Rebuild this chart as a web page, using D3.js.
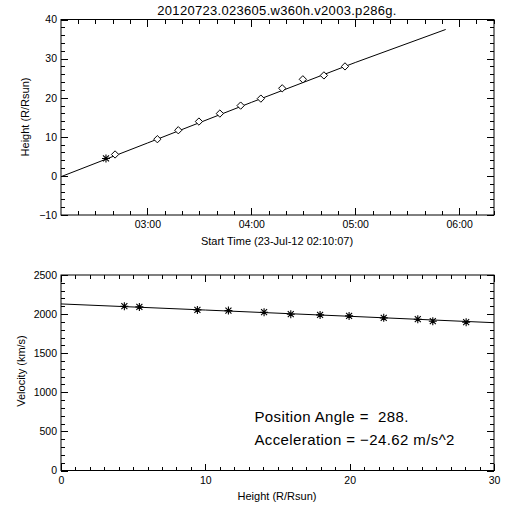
<!DOCTYPE html>
<html>
<head>
<meta charset="utf-8">
<script src="https://cdn.jsdelivr.net/npm/d3@7/dist/d3.min.js"></script>
<style>
  html, body { margin: 0; padding: 0; background: #fff; }
  svg { display: block; }
  text { font-family: "Liberation Sans", Arial, sans-serif; fill: #000; white-space: pre; }
</style>
</head>
<body>
<svg id="chart" width="512" height="512"></svg>
<script>
// ---------- data ----------
const titleText = "20120723.023605.w360h.v2003.p286g.";
const dayStr = "2012-07-23";
const timeDomain = ["02:10:07", "06:20:07"];
const timeMajorTicks = ["03:00:00", "04:00:00", "05:00:00", "06:00:00"];
const heightDomain = [-10, 40];
const heightTicks = [-10, 0, 10, 20, 30, 40];

// first (C2) point, drawn as asterisk
const c2Times = ["02:36:05"];
const c2Heights = [4.46];
// C3 points, drawn as diamonds
const c3Times = ["02:41:20", "03:05:45", "03:17:50", "03:29:45", "03:41:50", "03:53:50",
                 "04:05:30", "04:17:50", "04:29:45", "04:41:55", "04:54:05"];
const c3Heights = [5.48, 9.39, 11.68, 13.9, 15.94, 17.98, 19.77, 22.4, 24.7, 25.7, 28.0];
// height-time fit curve
const fitTimes = ["02:10:07", "03:00:00", "04:00:00", "05:00:00", "05:52:13"];
const fitHeights = [-0.2, 8.4, 18.8, 29.0, 37.45];

// velocity panel
const velXDomain = [0, 30];
const velXTicks = [0, 10, 20, 30];
const velYDomain = [0, 2500];
const velYTicks = [0, 500, 1000, 1500, 2000, 2500];
const velHeights = [4.39, 5.43, 9.45, 11.6, 14.07, 15.92, 17.95, 19.96, 22.36, 24.72, 25.76, 28.07];
const velValues = [2101, 2092, 2054, 2045, 2024, 1999, 1990, 1977, 1952, 1935, 1909, 1897];
const velFitHeights = [0, 10, 20, 30];
const velFitValues = [2130, 2052, 1972, 1890];

const annotation1 = "Position Angle =  288.";
const annotation2 = "Acceleration = \u221224.62 m/s^2";
const annoPos1 = [13.4, 625];
const annoPos2 = [13.4, 330];

// ---------- drawing ----------
const svg = d3.select("#chart");
const parseT = d3.timeParse("%Y-%m-%d %H:%M:%S");
const T = s => parseT(dayStr + " " + s);

const L = 61, R = 494;
const top1 = 19.5, bot1 = 215;
const top2 = 275, bot2 = 470.5;
const MAJ = 7, MIN = 4;

function frame(g, x0, y0, x1, y1) {
  g.append("rect").attr("x", x0).attr("y", y0).attr("width", x1 - x0).attr("height", y1 - y0)
    .attr("fill", "none").attr("stroke", "#000").attr("stroke-width", 1);
}

function tickAxes(g, x, y, xMajor, xMinor, yMajor, yMinor, xFmt, yFmt, y0, y1) {
  const mk = (axisFn, scale, vals, size, fmt, tr) => {
    const a = axisFn(scale).tickValues(vals).tickSize(-size).tickPadding(6);
    a.tickFormat(fmt ? fmt : () => "");
    const gg = g.append("g").attr("transform", tr).call(a);
    gg.select(".domain").remove();
    gg.selectAll("line").attr("stroke", "#000").attr("shape-rendering", "crispEdges");
    gg.selectAll("text").attr("font-size", 10.5).attr("font-family", "Liberation Sans, Arial, sans-serif").attr("fill", "#000");
    return gg;
  };
  mk(d3.axisBottom, x, xMajor, MAJ, xFmt, `translate(0,${y1})`);
  mk(d3.axisBottom, x, xMinor, MIN, null, `translate(0,${y1})`);
  mk(d3.axisTop, x, xMajor, MAJ, null, `translate(0,${y0})`);
  mk(d3.axisTop, x, xMinor, MIN, null, `translate(0,${y0})`);
  const yl = mk(d3.axisLeft, y, yMajor, MAJ, yFmt, `translate(${L},0)`);
  yl.selectAll("text").attr("dx", "2");
  mk(d3.axisLeft, y, yMinor, MIN, null, `translate(${L},0)`);
  mk(d3.axisRight, y, yMajor, MAJ, null, `translate(${R},0)`);
  mk(d3.axisRight, y, yMinor, MIN, null, `translate(${R},0)`);
}

function asterisk(g, cx, cy, r) {
  const p = d3.path();
  p.moveTo(cx - r, cy); p.lineTo(cx + r, cy);
  p.moveTo(cx, cy - r); p.lineTo(cx, cy + r);
  const d = r * 0.75;
  p.moveTo(cx - d, cy - d); p.lineTo(cx + d, cy + d);
  p.moveTo(cx - d, cy + d); p.lineTo(cx + d, cy - d);
  g.append("path").attr("d", p.toString()).attr("stroke", "#000").attr("stroke-width", 1.1).attr("fill", "none");
}

// title
svg.append("text").attr("x", 277).attr("y", 15).attr("text-anchor", "middle")
  .attr("font-size", 13).attr("letter-spacing", 0.3).text(titleText);

// ----- panel 1: height-time -----
const g1 = svg.append("g");
const x1 = d3.scaleTime().domain(timeDomain.map(T)).range([L, R]);
const y1 = d3.scaleLinear().domain(heightDomain).range([bot1, top1]);
const minorTimes = d3.timeMinute.every(10).range(x1.domain()[0], x1.domain()[1])
  .filter(d => d.getMinutes() !== 0);
const hMinor = d3.range(heightDomain[0], heightDomain[1] + 0.001, 2).filter(v => v % 10 !== 0);
frame(g1, L, top1, R, bot1);
tickAxes(g1, x1, y1, timeMajorTicks.map(T), minorTimes, heightTicks, hMinor,
  d3.timeFormat("%H:%M"), d3.format("d"), top1, bot1);
g1.selectAll("text").filter(function () { return this.textContent.startsWith("-"); })
  .text(function () { return "\u2212" + this.textContent.slice(1); });

g1.append("path")
  .datum(fitTimes.map((t, i) => [T(t), fitHeights[i]]))
  .attr("d", d3.line().x(d => x1(d[0])).y(d => y1(d[1])))
  .attr("fill", "none").attr("stroke", "#000").attr("stroke-width", 1);

const diamond = d3.symbol().type(d3.symbolDiamond2).size(34);
g1.selectAll(".dm").data(c3Times.map((t, i) => [T(t), c3Heights[i]])).enter()
  .append("path").attr("class", "dm")
  .attr("transform", d => `translate(${x1(d[0])},${y1(d[1])})`)
  .attr("d", diamond).attr("fill", "#fff").attr("stroke", "#000").attr("stroke-width", 1);
c2Times.forEach((t, i) => asterisk(g1, x1(T(t)), y1(c2Heights[i]), 4));

svg.append("text").attr("x", 277).attr("y", 245).attr("text-anchor", "middle")
  .attr("font-size", 11).text("Start Time (23-Jul-12 02:10:07)");
svg.append("text").attr("transform", "translate(29,117) rotate(-90)").attr("text-anchor", "middle")
  .attr("font-size", 11).text("Height (R/Rsun)");

// ----- panel 2: velocity-height -----
const g2 = svg.append("g");
const x2 = d3.scaleLinear().domain(velXDomain).range([L, R]);
const y2 = d3.scaleLinear().domain(velYDomain).range([bot2, top2]);
const vxMinor = d3.range(velXDomain[0], velXDomain[1] + 0.001, 1).filter(v => v % 10 !== 0);
const vyMinor = d3.range(velYDomain[0], velYDomain[1] + 0.001, 100).filter(v => v % 500 !== 0);
frame(g2, L, top2, R, bot2);
tickAxes(g2, x2, y2, velXTicks, vxMinor, velYTicks, vyMinor, d3.format("d"), d3.format("d"), top2, bot2);

g2.append("path")
  .datum(velFitHeights.map((h, i) => [h, velFitValues[i]]))
  .attr("d", d3.line().x(d => x2(d[0])).y(d => y2(d[1])))
  .attr("fill", "none").attr("stroke", "#000").attr("stroke-width", 1);
velHeights.forEach((h, i) => asterisk(g2, x2(h), y2(velValues[i]), 4));

g2.append("text").attr("x", x2(annoPos1[0])).attr("y", y2(annoPos1[1]))
  .attr("font-size", 15).attr("letter-spacing", 0.4).attr("xml:space", "preserve").text(annotation1);
g2.append("text").attr("x", x2(annoPos2[0])).attr("y", y2(annoPos2[1]))
  .attr("font-size", 15).attr("letter-spacing", 0.4).attr("xml:space", "preserve").text(annotation2);

svg.append("text").attr("x", 277).attr("y", 500).attr("text-anchor", "middle")
  .attr("font-size", 11).text("Height (R/Rsun)");
svg.append("text").attr("transform", "translate(25,371) rotate(-90)").attr("text-anchor", "middle")
  .attr("font-size", 11).text("Velocity (km/s)");
</script>
</body>
</html>
